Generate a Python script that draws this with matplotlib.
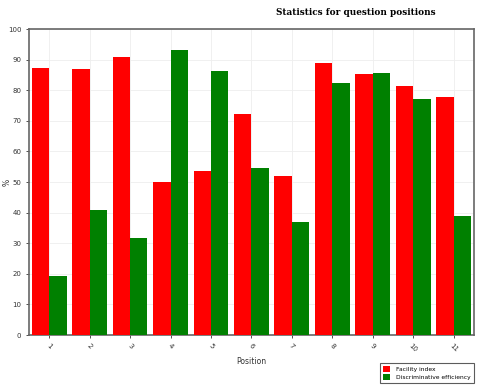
import numpy as np
import matplotlib.pyplot as plt

# data
positions = ['1', '2', '3', '4', '5', '6', '7', '8', '9', '10', '11']
facility = [87.2, 87.0, 90.8, 50.1, 53.7, 72.2, 52.0, 88.9, 85.3, 81.4, 77.8]
discrim = [19.4, 40.8, 31.6, 93.0, 86.3, 54.6, 37.0, 82.2, 85.5, 77.1, 38.9]

fig = plt.figure(figsize=(4.85, 3.89), dpi=100)
ax = fig.add_axes([0.0598, 0.1388, 0.9172, 0.7866])

x = np.arange(len(positions))
w = 0.43
ax.bar(x - w / 2, facility, width=w, color='#ff0000', label='Facility index', zorder=3)
ax.bar(x + w / 2, discrim, width=w, color='#008000', label='Discriminative efficiency', zorder=3)

ax.set_xlim(-0.5, len(positions) - 0.5)
ax.set_ylim(0, 100)
ax.set_yticks(range(0, 101, 10))
ax.set_xticks(x)
ax.set_xticklabels(positions, rotation=-45, ha='center')
ax.tick_params(labelsize=5, colors='#333333', length=2, width=0.6)
ax.grid(True, color='#eeeeee', linewidth=0.6, zorder=0)

for s in ax.spines.values():
    s.set_color('#666666')
    s.set_linewidth(1.2)

ax.set_xlabel('Position', fontsize=5.5, color='#333333', labelpad=3)
ax.set_ylabel('%', fontsize=5.5, color='#333333')
ax.yaxis.set_label_coords(-0.04, 0.5)

fig.text(0.733, 0.968, 'Statistics for question positions', ha='center', va='center',
         fontsize=6.4, fontweight='bold', family='DejaVu Serif')

leg = fig.legend(loc='lower right', bbox_to_anchor=(0.983, 0.008), fontsize=4.3,
                 frameon=True, fancybox=False, edgecolor='#333333',
                 handlelength=1.3, handleheight=1.3, handletextpad=1.0,
                 borderpad=0.45, labelspacing=0.25)
leg.get_frame().set_linewidth(0.8)

fig.savefig('out.png', dpi=100)
